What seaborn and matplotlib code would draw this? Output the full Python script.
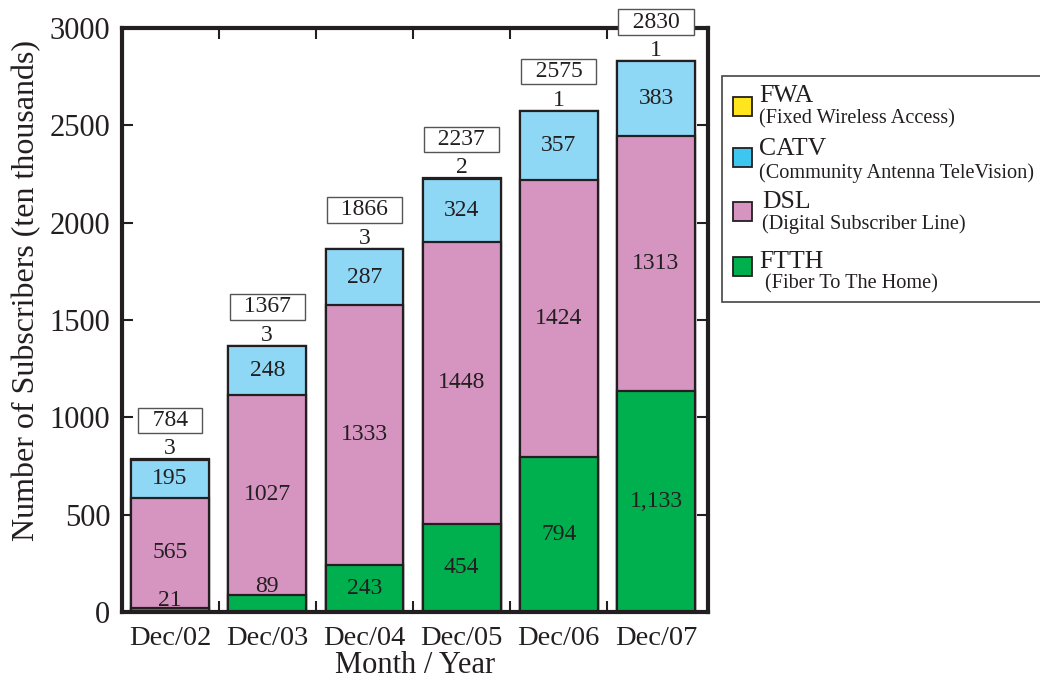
import numpy as np
import pandas as pd
import matplotlib
matplotlib.use("Agg")
import matplotlib.pyplot as plt
from matplotlib.patches import Rectangle
import seaborn as sns

# Broadband subscribers in Japan (ten thousands)
months = ["Dec/02", "Dec/03", "Dec/04", "Dec/05", "Dec/06", "Dec/07"]
ftth = [21, 89, 243, 454, 794, 1133]
dsl = [565, 1027, 1333, 1448, 1424, 1313]
catv = [195, 248, 287, 324, 357, 383]
fwa = [3, 3, 3, 2, 1, 1]
totals = [784, 1367, 1866, 2237, 2575, 2830]
ftth_labels = ["21", "89", "243", "454", "794", "1,133"]

legend_names = ["FWA", "CATV", "DSL", "FTTH"]
legend_desc = ["(Fixed Wireless Access)", "(Community Antenna TeleVision)",
               "(Digital Subscriber Line)", "(Fiber To The Home)"]

C_FTTH = "#00b04f"
C_DSL = "#d694c0"
C_CATV = "#8fd8f5"
C_CATV_LEG = "#3cc6f0"
C_FWA = "#ffe51e"
INK = "#231f20"

sns.set_style("white")
plt.rcParams["font.family"] = ["Liberation Serif", "DejaVu Serif"]
plt.rcParams["text.color"] = INK
plt.rcParams["axes.labelcolor"] = INK
plt.rcParams["xtick.color"] = INK
plt.rcParams["ytick.color"] = INK

df = pd.DataFrame({"month": months, "ftth": ftth, "dsl": dsl, "catv": catv, "fwa": fwa})
df["c_ftth"] = df["ftth"]
df["c_dsl"] = df["c_ftth"] + df["dsl"]
df["c_catv"] = df["c_dsl"] + df["catv"]
df["c_fwa"] = df["c_catv"] + df["fwa"]

fig = plt.figure(figsize=(10.4, 6.84), dpi=100)
ax = fig.add_axes([0.1173, 0.1053, 0.5635, 0.8538])

# Stack by overlaying cumulative totals, tallest first
for col, color in [("c_fwa", C_FWA), ("c_catv", C_CATV), ("c_dsl", C_DSL), ("c_ftth", C_FTTH)]:
    sns.barplot(data=df, x="month", y=col, color=color, width=0.8, saturation=1,
                edgecolor=INK, linewidth=1.6, ax=ax, errorbar=None)

ax.set_xlim(-0.494, 5.535)
ax.set_ylim(0, 3000)
ax.set_yticks([0, 500, 1000, 1500, 2000, 2500, 3000])
ax.set_xticks(range(len(months)))
ax.set_xticklabels(months)
ax.set_xticks(np.arange(0.5, len(months) - 0.5, 1.0), minor=True)
ax.tick_params(axis="x", which="major", length=0, labelsize=20.5, pad=10)
ax.tick_params(axis="x", which="minor", direction="in", length=8, width=1.5,
               top=True, bottom=True)
ax.tick_params(axis="y", which="major", direction="in", length=8, width=1.5,
               left=True, right=True, labelsize=22, pad=8.5)
for s in ax.spines.values():
    s.set_linewidth(3)
    s.set_color(INK)
ax.set_xlabel("Month / Year", fontsize=22, labelpad=0)
ax.set_ylabel("Number of Subscribers (ten thousands)", fontsize=23)
ax.yaxis.set_label_coords(-0.137, 0.551)

lab_fs = 17
for i in range(len(months)):
    # FTTH
    if ftth[i] < 150:
        ax.annotate(ftth_labels[i], (i, ftth[i]), xytext=(0, -2), textcoords="offset points",
                    ha="center", va="bottom", fontsize=lab_fs)
    else:
        ax.text(i, ftth[i] / 2, ftth_labels[i], ha="center", va="center", fontsize=lab_fs)
    # DSL
    ax.text(i, ftth[i] + dsl[i] / 2, str(dsl[i]), ha="center", va="center", fontsize=lab_fs)
    # CATV
    ax.text(i, ftth[i] + dsl[i] + catv[i] / 2, str(catv[i]), ha="center", va="center",
            fontsize=lab_fs)
    top = ftth[i] + dsl[i] + catv[i] + fwa[i]
    # FWA
    ax.annotate(str(fwa[i]), (i, top), xytext=(0, 0), textcoords="offset points",
                ha="center", va="bottom", fontsize=lab_fs)
    # Total in a box
    ax.annotate(f"  {totals[i]}  ", (i, top), xytext=(0, 28), textcoords="offset points",
                ha="center", va="center", fontsize=lab_fs, annotation_clip=False,
                bbox=dict(boxstyle="square,pad=0.1", fc="white", ec="#555555", lw=1.0))

# Legend panel
W, H = 1040.0, 684.0
def fx(px):
    return px / W
def fy(py):
    return 1 - py / H

fig.add_artist(Rectangle((fx(722), fy(302)), fx(1045) - fx(722), fy(76) - fy(302),
                         transform=fig.transFigure, fc="white", ec="#444444", lw=1.2,
                         clip_on=False))
patch_y = [106, 157, 211, 266]
name_y = [96, 149, 202, 262]
desc_y = [119, 173, 224, 284]
name_x = [759, 759, 762, 759]
desc_x = [759, 759, 762, 765]
colors = [C_FWA, C_CATV_LEG, C_DSL, C_FTTH]
for k in range(4):
    fig.add_artist(Rectangle((fx(733), fy(patch_y[k] + 10)), fx(19), 19 / H,
                             transform=fig.transFigure, fc=colors[k], ec=INK, lw=1.3))
    fig.text(fx(name_x[k]), fy(name_y[k]), legend_names[k], fontsize=18.5,
             ha="left", va="center")
    fig.text(fx(desc_x[k]), fy(desc_y[k]), legend_desc[k], fontsize=14.6,
             ha="left", va="center")

fig.savefig("out.png", dpi=100)
